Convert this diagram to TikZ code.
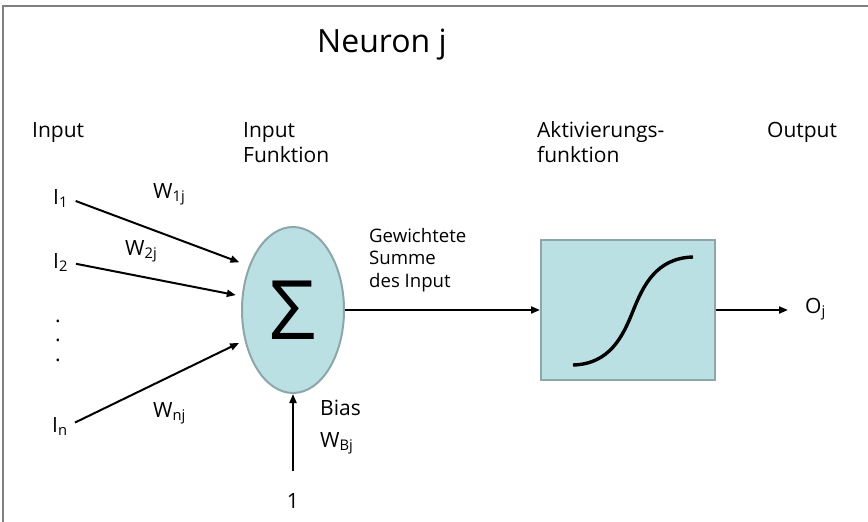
\documentclass[tikz,border=0pt]{standalone}
\usepackage{fontspec}
\setmainfont{Open Sans}
\usetikzlibrary{arrows.meta,shapes.geometric}
\definecolor{neuronfill}{RGB}{187,224,227}
\definecolor{neuronedge}{RGB}{140,166,170}
\definecolor{framegray}{RGB}{128,128,128}

\begin{document}
\begin{tikzpicture}[x=1pt,y=-1pt,
    lbl/.style={anchor=base west,inner sep=0pt,font=\fontsize{21}{24.5}\selectfont},
    small/.style={anchor=base west,inner sep=0pt,align=left,font=\fontsize{18.6}{22.5}\selectfont},
    unit/.style={draw=neuronedge,fill=neuronfill,line width=2pt,inner sep=0pt},
    arr/.style={->,line width=2pt},
    >={Triangle[length=9pt,width=7pt]}
]
\useasboundingbox (0,0) rectangle (868,522);
\draw[framegray,line width=2pt] (3,522) -- (3,6) -- (868,6);

% headings
\node[font=\fontsize{32}{38}\selectfont] (title) at (382,45) {Neuron j};
\node[lbl] (hin) at (32,137) {Input};
\node[lbl,align=left] (hfun) at (243,162) {Input\\Funktion};
\node[lbl,align=left] (hact) at (537,162) {Aktivierungs-\\funktion};
\node[lbl] (hout) at (767,137) {Output};

% inputs and weights
\node[lbl] (I1) at (53,204) {I\textsubscript{1}};
\node[lbl] (I2) at (53,268) {I\textsubscript{2}};
\node[lbl,align=center,font=\fontsize{21}{19.5}\selectfont] (dots) at (55,361) {.\\.\\.};
\node[lbl] (In) at (52,432) {I\textsubscript{n}};
\node[lbl] (W1) at (153,198) {W\textsubscript{1j}};
\node[lbl] (W2) at (125,255) {W\textsubscript{2j}};
\node[lbl] (Wn) at (153,417) {W\textsubscript{nj}};

% neuron
\node[unit,ellipse,minimum width=102pt,minimum height=166pt] (sum) at (293,310)
    {\fontsize{82}{84}\selectfont Σ};
\node[unit,rectangle,minimum width=174pt,minimum height=140pt] (act) at (628,310) {};
\draw[line width=3.4pt] (573,365) .. controls (610,364) and (623,336) .. (633,311)
    .. controls (643,286) and (656,258) .. (693,257);

% bias
\node[lbl] (bias) at (320,415) {Bias};
\node[lbl] (WB) at (320,447) {W\textsubscript{Bj}};
\node[lbl,anchor=base] (one) at (293,508) {1};

\node[small] (wsum) at (369,287) {Gewichtete\\Summe\\des Input};
\node[lbl] (Oj) at (805,313) {O\textsubscript{j}};

% connectors
\draw[arr,shorten <=8pt,shorten >=10pt] (I1.east) -- (sum.135);
\draw[arr,shorten <=8pt,shorten >=6pt] (I2.east) -- (sum.165);
\draw[arr,shorten <=8pt,shorten >=6pt] (In.east) -- (sum.212);
\draw[arr,shorten <=22pt] (one.north) -- (sum.south);
\draw[arr] (sum.east) -- (act.west);
\draw[arr,shorten >=17pt] (act.east) -- (act.east -| Oj.west);
\end{tikzpicture}
\end{document}
